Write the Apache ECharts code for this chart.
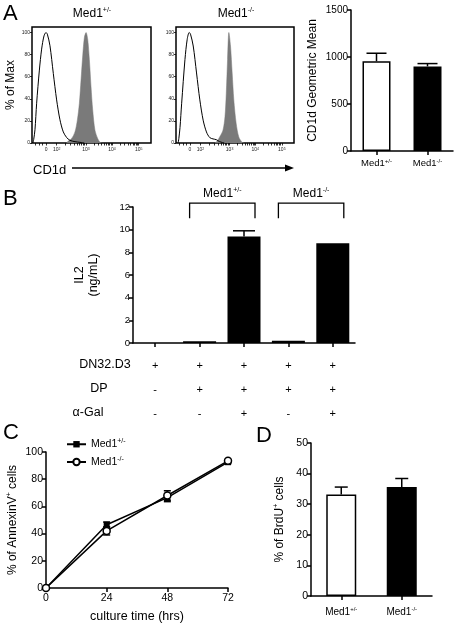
<!DOCTYPE html>
<html><head><meta charset="utf-8">
<script src="https://cdn.jsdelivr.net/npm/echarts@6/dist/echarts.min.js"></script>
<style>html,body{margin:0;padding:0;background:#fff}#c{width:454px;height:624px}</style>
</head><body><div id="c"></div><script>
const FONT = 'Liberation Sans, Arial, Helvetica, sans-serif';

// ---- Panel A: CD1d histograms (display channel 0-1000, % of max) ----
const histTickLabels = ['0', '10^2', '10^3', '10^4', '10^5'];
const histTickPos = [118, 207, 454, 672, 897];
const histYTicks = [0, 20, 40, 60, 80, 100];
const hist1Open = [[8,0],[14,3],[25,12],[39,36],[62,66],[81,85],[101,97],[118,100],[129,98.5],[151,88],[179,63],[207,39],[235,21],[263,10],[291,5],[319,2.4],[361,1.2],[403,0.6],[440,0]];
const hist1Filled = [[291,0],[305,1.8],[333,4],[361,10],[381,20.7],[398,36],[412,57],[426,78.7],[440,95.4],[454,100],[468,94],[482,75.6],[496,51],[510,30],[529,11.6],[552,4],[571,0.6],[585,0]];
const hist2Open = [[18,0],[24,4],[34,14],[48,36],[76,75.6],[95,93.9],[112,100],[123,98.5],[146,87.8],[174,63.4],[202,39],[230,20.7],[258,10],[286,4.9],[314,3.7],[342,3],[370,1.2],[410,0]];
const hist2Filled = [[328,0],[350,1.8],[370,5.5],[398,11.6],[415,23.8],[426,45],[437,75.6],[448,100],[462,87.8],[476,63.4],[490,39],[510,17.7],[532,5.5],[560,0.6],[575,0]];

// ---- Panel A: CD1d geometric mean ----
const groups = ['Med1+/-', 'Med1-/-'];
const cd1dMean = [955, 900];
const cd1dErr = [85, 30];

// ---- Panel B: IL2 ----
const bCats = ['1', '2', '3', '4', '5'];
const il2 = [0, 0.15, 9.4, 0.2, 8.8];
const il2Err = [0, 0, 0.5, 0, 0];
const rowDN = ['+', '+', '+', '+', '+'];
const rowDP = ['-', '+', '+', '+', '+'];
const rowGal = ['-', '-', '+', '-', '+'];
const rowNames = ['DN32.D3', 'DP', 'α-Gal'];
const bracketGroups = [['Med1+/-', 1, 2], ['Med1-/-', 3, 4]];

// ---- Panel C: AnnexinV ----
const hours = [0, 24, 48, 72];
const annexHet = [0, 46.5, 66.5, 92.5];
const annexHetErr = [0, 2, 3, 1];
const annexKO = [0, 42, 68, 93.5];
const annexKOErr = [0, 3, 3.5, 1];

// ---- Panel D: BrdU ----
const brdu = [33.2, 35.6];
const brduErr = [2.4, 2.8];

const BLACK = '#000';
const supRich = (fs) => ({ n: { fontSize: fs, fontFamily: FONT, color: BLACK, lineHeight: fs + 2, verticalAlign: 'middle' },
                          s: { fontSize: Math.round(fs * 0.62), fontFamily: FONT, color: BLACK, lineHeight: Math.round(fs * 0.62), verticalAlign: 'top' } });
const medLabel = (g) => '{n|' + g.slice(0, 4) + '}{s|' + g.slice(4) + '}';
const plainNum = (v) => String(v);

function histMinorTicks() {
  const t = [30, 60, 90].concat(histTickPos);
  for (let k = 1; k < histTickPos.length - 1; k++) {
    const a = histTickPos[k], b = histTickPos[k + 1];
    for (let m = 2; m <= 9; m++) t.push(a + (b - a) * Math.log10(m));
  }
  return t;
}
const histFmt = (v) => {
  const i = histTickPos.indexOf(v);
  if (i < 0) return '';
  const l = histTickLabels[i];
  if (l.indexOf('^') < 0) return '{n|' + l + '}';
  const p = l.split('^');
  return '{n|' + p[0] + '}{s|' + p[1] + '}';
};
const histRich = { n: { fontSize: 5, fontFamily: FONT, color: '#222', lineHeight: 6, verticalAlign: 'middle' },
                   s: { fontSize: 3.5, fontFamily: FONT, color: '#222', lineHeight: 4, verticalAlign: 'top' } };

function histX(gi) {
  return { gridIndex: gi, type: 'value', min: 0, max: 1000, splitLine: { show: false },
    axisLine: { show: false },
    axisTick: { show: true, length: 2.5, lineStyle: { color: BLACK, width: 0.8 }, customValues: histMinorTicks() },
    axisLabel: { customValues: histTickPos, formatter: histFmt, margin: 4, rich: histRich } };
}
function histY(gi, name) {
  return { gridIndex: gi, type: 'value', min: 0, max: 105, splitLine: { show: false },
    axisLine: { show: false },
    axisTick: { show: true, length: 2, lineStyle: { color: BLACK, width: 0.8 }, customValues: histYTicks },
    axisLabel: { customValues: histYTicks, fontSize: 5, color: '#222', margin: 2, fontFamily: FONT },
    name: name, nameLocation: 'middle', nameGap: 15, nameTextStyle: { fontSize: 12, color: BLACK, fontFamily: FONT } };
}
const axisLineStyle = { show: true, lineStyle: { color: BLACK, width: 1.5 } };
const tickStyle = { show: true, length: 4, lineStyle: { color: BLACK, width: 1.5 } };
const valLabel = (fs) => ({ fontSize: fs, color: BLACK, margin: 3, fontFamily: FONT, formatter: plainNum, showMaxLabel: true, showMinLabel: true, hideOverlap: false });

function errRender(capW, both) {
  return function (params, api) {
    const x = api.value(0), v = api.value(1), e = api.value(2);
    if (!e) return null;
    const top = api.coord([x, v + e]);
    const bot = api.coord([x, both ? v - e : v]);
    const st = { stroke: BLACK, lineWidth: 1.5 };
    const ch = [
      { type: 'line', shape: { x1: top[0], y1: top[1], x2: bot[0], y2: bot[1] }, style: st },
      { type: 'line', shape: { x1: top[0] - capW / 2, y1: top[1], x2: top[0] + capW / 2, y2: top[1] }, style: st }
    ];
    if (both) ch.push({ type: 'line', shape: { x1: bot[0] - capW / 2, y1: bot[1], x2: bot[0] + capW / 2, y2: bot[1] }, style: st });
    return { type: 'group', children: ch };
  };
}
const barItems = (vals) => vals.map((v, i) => ({ value: v,
  itemStyle: i === 0 ? { color: '#fff', borderColor: BLACK, borderWidth: 1.5 } : { color: BLACK, borderColor: BLACK, borderWidth: 1.5 } }));

const chart = echarts.init(document.getElementById('c'), null, { renderer: 'canvas' });

const option = {
  animation: false,
  backgroundColor: '#fff',
  textStyle: { fontFamily: FONT, color: BLACK },
  grid: [
    { left: 32, top: 27, width: 119, height: 116, show: true, borderColor: BLACK, borderWidth: 1.5, backgroundColor: 'transparent' },
    { left: 176, top: 27, width: 118, height: 116, show: true, borderColor: BLACK, borderWidth: 1.5, backgroundColor: 'transparent' },
    { left: 351, top: 10, width: 102, height: 141 },
    { left: 133, top: 207, width: 222, height: 136 },
    { left: 46, top: 452, width: 182, height: 137 },
    { left: 311, top: 443, width: 121, height: 153 }
  ],
  xAxis: [
    histX(0), histX(1),
    { gridIndex: 2, type: 'category', data: groups, axisLine: axisLineStyle, axisTick: Object.assign({ alignWithLabel: true }, tickStyle),
      axisLabel: { interval: 0, formatter: medLabel, margin: 7, rich: supRich(9.5) } },
    { gridIndex: 3, type: 'category', data: bCats, axisLine: axisLineStyle, axisTick: Object.assign({ alignWithLabel: true }, tickStyle),
      axisLabel: { interval: 0, formatter: (v, i) => rowDN[i] + '\n' + rowDP[i] + '\n' + rowGal[i], margin: 11, lineHeight: 24, fontSize: 11, color: BLACK, fontFamily: FONT } },
    { gridIndex: 4, type: 'value', min: 0, max: 72, interval: 24, splitLine: { show: false }, axisLine: axisLineStyle, axisTick: tickStyle,
      axisLabel: Object.assign(valLabel(10.5), { margin: 5 }),
      name: 'culture time (hrs)', nameLocation: 'middle', nameGap: 22, nameTextStyle: { fontSize: 12.5, color: BLACK, fontFamily: FONT } },
    { gridIndex: 5, type: 'category', data: groups, axisLine: axisLineStyle, axisTick: Object.assign({ alignWithLabel: true }, tickStyle),
      axisLabel: { interval: 0, formatter: medLabel, margin: 10, rich: supRich(10) } }
  ],
  yAxis: [
    histY(0, '% of Max'), histY(1, ''),
    { gridIndex: 2, type: 'value', min: 0, max: 1500, interval: 500, splitLine: { show: false }, axisLine: axisLineStyle, axisTick: tickStyle,
      axisLabel: valLabel(10),
      name: 'CD1d Geometric Mean', nameLocation: 'middle', nameGap: 32, nameTextStyle: { fontSize: 12, color: BLACK, fontFamily: FONT } },
    { gridIndex: 3, type: 'value', min: 0, max: 12, interval: 2, splitLine: { show: false }, axisLine: axisLineStyle, axisTick: tickStyle,
      axisLabel: valLabel(9.5),
      name: 'IL2\n(ng/mL)', nameLocation: 'middle', nameGap: 32, nameTextStyle: { fontSize: 12.5, lineHeight: 14, color: BLACK, fontFamily: FONT } },
    { gridIndex: 4, type: 'value', min: 0, max: 100, interval: 20, splitLine: { show: false }, axisLine: axisLineStyle, axisTick: tickStyle,
      axisLabel: valLabel(10.5),
      name: '{n|% of AnnexinV}{s|+}{n| cells}', nameLocation: 'middle', nameGap: 26,
      nameTextStyle: { rich: supRich(12) } },
    { gridIndex: 5, type: 'value', min: 0, max: 50, interval: 10, splitLine: { show: false }, axisLine: axisLineStyle, axisTick: tickStyle,
      axisLabel: valLabel(10.5),
      name: '{n|% of BrdU}{s|+}{n| cells}', nameLocation: 'middle', nameGap: 24,
      nameTextStyle: { rich: supRich(12) } }
  ],
  legend: {
    orient: 'vertical', left: 66, top: 438, padding: 0, itemWidth: 19, itemHeight: 8, itemGap: 6,
    data: ['Med1+/-', 'Med1-/-'],
    formatter: medLabel,
    textStyle: { rich: supRich(10.5) }
  },
  series: [
    { type: 'line', xAxisIndex: 0, yAxisIndex: 0, data: hist1Filled, smooth: 0.3, symbol: 'none',
      lineStyle: { width: 0.5, color: '#7a7a7a' }, areaStyle: { color: '#7a7a7a', opacity: 1 }, z: 2 },
    { type: 'line', xAxisIndex: 0, yAxisIndex: 0, data: hist1Open, smooth: 0.3, symbol: 'none',
      lineStyle: { width: 1, color: BLACK }, z: 3 },
    { type: 'line', xAxisIndex: 1, yAxisIndex: 1, data: hist2Filled, smooth: 0.3, symbol: 'none',
      lineStyle: { width: 0.5, color: '#7a7a7a' }, areaStyle: { color: '#7a7a7a', opacity: 1 }, z: 2 },
    { type: 'line', xAxisIndex: 1, yAxisIndex: 1, data: hist2Open, smooth: 0.3, symbol: 'none',
      lineStyle: { width: 1, color: BLACK }, z: 3 },

    { type: 'bar', xAxisIndex: 2, yAxisIndex: 2, data: barItems(cd1dMean), barWidth: 28 },
    { type: 'custom', xAxisIndex: 2, yAxisIndex: 2, renderItem: errRender(20, false),
      data: cd1dMean.map((v, i) => [i, v, cd1dErr[i]]), z: 5 },

    { type: 'bar', xAxisIndex: 3, yAxisIndex: 3, data: il2, barWidth: 33, itemStyle: { color: BLACK } },
    { type: 'custom', xAxisIndex: 3, yAxisIndex: 3, renderItem: errRender(22, false),
      data: il2.map((v, i) => [i, v, il2Err[i]]), z: 5 },

    { type: 'custom', xAxisIndex: 4, yAxisIndex: 4, renderItem: errRender(7, true),
      data: hours.map((h, i) => [h, annexHet[i], annexHetErr[i]]), z: 1 },
    { type: 'custom', xAxisIndex: 4, yAxisIndex: 4, renderItem: errRender(7, true),
      data: hours.map((h, i) => [h, annexKO[i], annexKOErr[i]]), z: 1 },
    { name: 'Med1+/-', type: 'line', xAxisIndex: 4, yAxisIndex: 4, data: hours.map((h, i) => [h, annexHet[i]]),
      symbol: 'rect', symbolSize: 6, itemStyle: { color: BLACK }, lineStyle: { color: BLACK, width: 1.5 }, z: 3 },
    { name: 'Med1-/-', type: 'line', xAxisIndex: 4, yAxisIndex: 4, data: hours.map((h, i) => [h, annexKO[i]]),
      symbol: 'circle', symbolSize: 7, itemStyle: { color: '#fff', borderColor: BLACK, borderWidth: 1.5 },
      lineStyle: { color: BLACK, width: 1.5 }, z: 4 },

    { type: 'bar', xAxisIndex: 5, yAxisIndex: 5, data: barItems(brdu), barWidth: 30 },
    { type: 'custom', xAxisIndex: 5, yAxisIndex: 5, renderItem: errRender(13, false),
      data: brdu.map((v, i) => [i, v, brduErr[i]]), z: 5 }
  ]
};
chart.setOption(option);

// ---- annotations (text, bracket, arrow) ----
const letter = (t, x, y) => ({ type: 'text', x: x, y: y, style: { text: t, font: '22px ' + FONT, fill: BLACK } });
const richText = (t, x, y, fs, align) => ({ type: 'text', x: x, y: y,
  style: { text: medLabel(t), rich: supRich(fs), align: align || 'center', verticalAlign: 'middle', fill: BLACK } });
const g = [
  letter('A', 3, 3), letter('B', 3, 188), letter('C', 3, 422), letter('D', 256, 425),
  richText(groups[0], 92, 14, 12), richText(groups[1], 236, 14, 12),
  { type: 'text', x: 33, y: 170, style: { text: 'CD1d', font: '13px ' + FONT, fill: BLACK, verticalAlign: 'middle' } },
  { type: 'line', shape: { x1: 72, y1: 168, x2: 286, y2: 168 }, style: { stroke: BLACK, lineWidth: 1.3 } },
  { type: 'polygon', shape: { points: [[285, 164.5], [294, 168], [285, 171.5]] }, style: { fill: BLACK } }
];
const rowY = [365, 389, 413];
const rowX = [105, 99, 88];
rowNames.forEach((n, i) => g.push({ type: 'text', x: rowX[i], y: rowY[i],
  style: { text: n, font: '12.5px ' + FONT, fill: BLACK, align: 'center', verticalAlign: 'middle' } }));
bracketGroups.forEach(([name, a, b]) => {
  const pA = chart.convertToPixel({ gridIndex: 3 }, [bCats[a], 11]);
  const pB = chart.convertToPixel({ gridIndex: 3 }, [bCats[b], 12.35]);
  const x1 = pA[0] - 10, x2 = pB[0] + 11, yb = pA[1], yt = pB[1];
  g.push({ type: 'polyline', shape: { points: [[x1, yb], [x1, yt], [x2, yt], [x2, yb]] }, style: { stroke: BLACK, lineWidth: 1.3, fill: null } });
  g.push(richText(name, (x1 + x2) / 2, yt - 9, 12));
});
chart.setOption({ graphic: g });
</script></body></html>
